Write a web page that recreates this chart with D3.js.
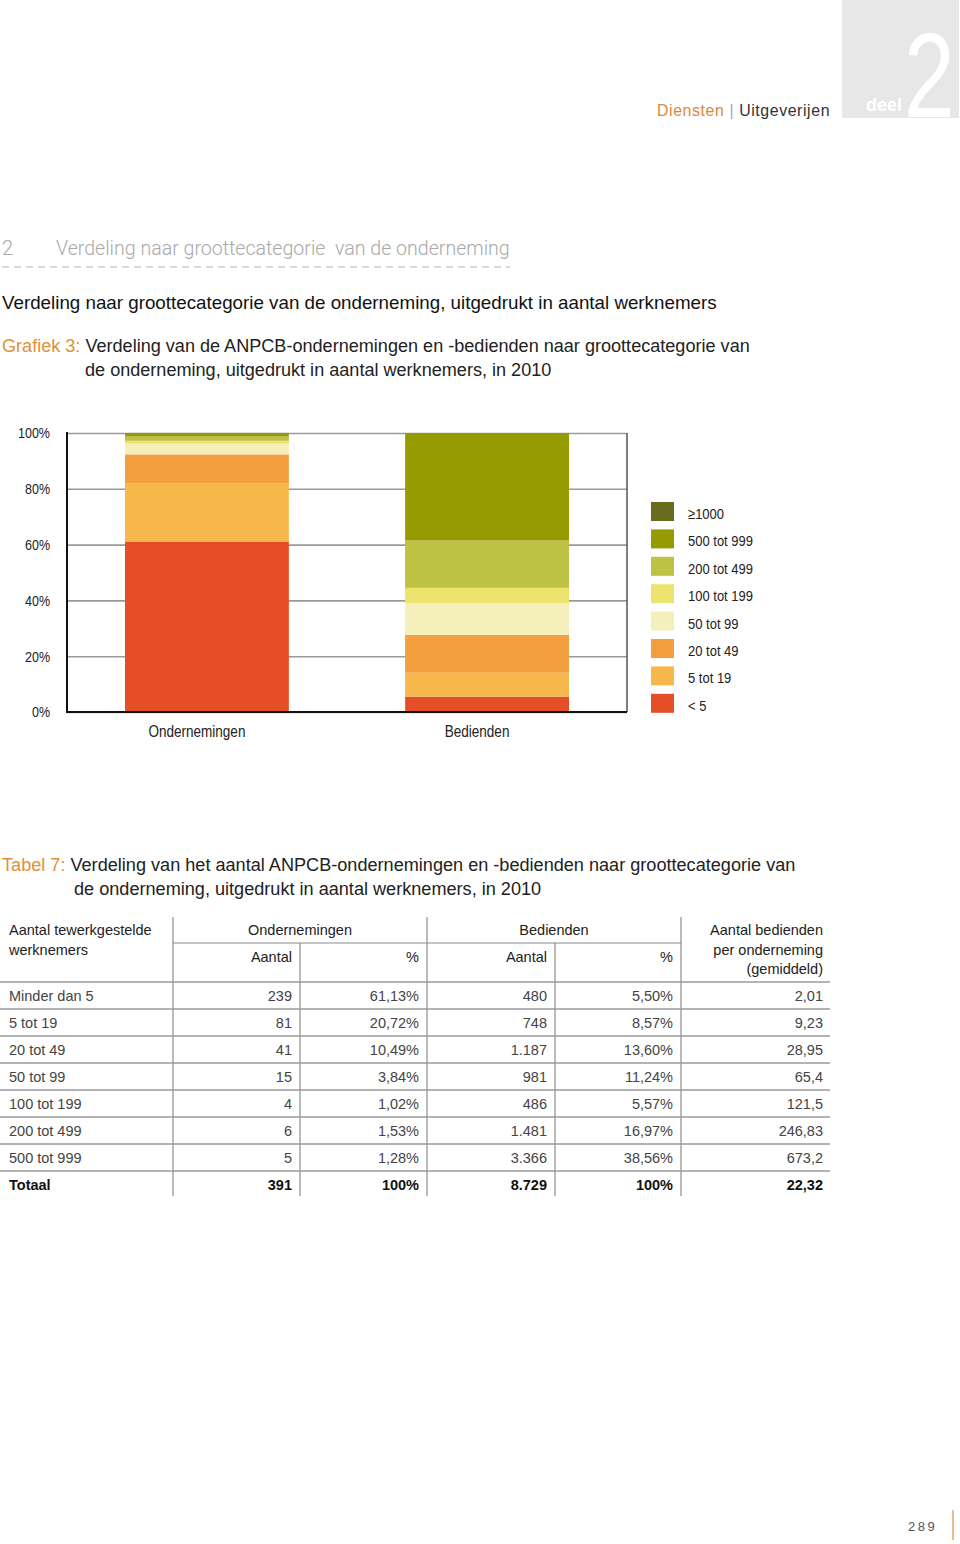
<!DOCTYPE html>
<html><head><meta charset="utf-8">
<script src="https://cdn.jsdelivr.net/npm/d3@7"></script>
<style>body{margin:0;background:#fff} svg{display:block}</style>
</head><body><svg id="c" width="960" height="1544"></svg>
<script>
// ---------- DATA ----------
const categories = ["Ondernemingen", "Bedienden"];
const sizeClasses = ["< 5", "5 tot 19", "20 tot 49", "50 tot 99", "100 tot 199", "200 tot 499", "500 tot 999", "≥1000"];
const ondernemingenPct = [61.13, 20.72, 10.49, 3.84, 1.02, 1.53, 1.28, 0];
const bediendenPct = [5.50, 8.57, 13.60, 11.24, 5.57, 16.97, 38.56, 0];
const yTicks = [0, 20, 40, 60, 80, 100];
const classColors = ["#e64e27", "#f7b84b", "#f39f40", "#f4efbb", "#ece46e", "#bdc244", "#959b00", "#6b6b1e"];

const tableLabels = ["Minder dan 5", "5 tot 19", "20 tot 49", "50 tot 99", "100 tot 199", "200 tot 499", "500 tot 999", "Totaal"];
const ondAantal = ["239", "81", "41", "15", "4", "6", "5", "391"];
const ondPct = ["61,13%", "20,72%", "10,49%", "3,84%", "1,02%", "1,53%", "1,28%", "100%"];
const bedAantal = ["480", "748", "1.187", "981", "486", "1.481", "3.366", "8.729"];
const bedPct = ["5,50%", "8,57%", "13,60%", "11,24%", "5,57%", "16,97%", "38,56%", "100%"];
const bedPerOnd = ["2,01", "9,23", "28,95", "65,4", "121,5", "246,83", "673,2", "22,32"];

// ---------- HELPERS ----------
const svg = d3.select("#c");
const SANS = "'Liberation Sans', Arial, Helvetica, sans-serif";
function fit(sel, w) {
  const L = sel.node().getComputedTextLength();
  const fs = parseFloat(sel.attr("font-size"));
  const nf = fs * w / L;
  sel.attr("font-size", nf);
  return nf;
}
// horizontally condense texts (mimics a condensed face) by a factor
function condense(sel, f) {
  sel.each(function () {
    const L = this.getComputedTextLength();
    d3.select(this).attr("textLength", L * f).attr("lengthAdjust", "spacingAndGlyphs");
  });
}
function factorFor(node, w) { return w / node.getComputedTextLength(); }

// ---------- PAGE HEADER ----------
svg.append("rect").attr("x", 842).attr("y", 0).attr("width", 117).attr("height", 118).attr("fill", "#e6e7e6");
svg.append("g").attr("transform", "translate(904,117) scale(0.76,1)")
  .append("text").attr("x", 0).attr("y", 0).attr("font-family", SANS).attr("font-size", 120)
  .attr("fill", "#fff").text("2");
const deel = svg.append("text").attr("x", 866).attr("y", 111).attr("font-family", SANS).attr("font-weight", "bold")
  .attr("font-size", 17).attr("fill", "#fff").text("deel");
fit(deel, 36);

const hdr = svg.append("text").attr("x", 657).attr("y", 116).attr("font-family", SANS).attr("font-size", 15)
  .attr("letter-spacing", 0.6);
hdr.append("tspan").attr("fill", "#d9893b").text("Diensten ");
hdr.append("tspan").attr("fill", "#aaa").text("| ");
hdr.append("tspan").attr("fill", "#333").text("Uitgeverijen");
fit(hdr, 174);

// ---------- SECTION TITLE ----------
svg.append("text").attr("x", 2).attr("y", 255).attr("font-family", "Roboto, 'Open Sans', sans-serif").attr("font-weight", 300)
  .attr("font-size", 20).attr("fill", "#a9a9a9").text("2");
const sec = svg.append("text").attr("x", 56).attr("y", 255).attr("font-family", "Roboto, 'Open Sans', sans-serif").attr("font-weight", 300)
  .attr("font-size", 20).attr("fill", "#a9a9a9").attr("xml:space", "preserve").text("Verdeling naar groottecategorie  van de onderneming");
fit(sec, 454);
svg.append("line").attr("x1", 2).attr("x2", 510).attr("y1", 267).attr("y2", 267)
  .attr("stroke", "#b3b3b3").attr("stroke-width", 1.2).attr("stroke-dasharray", "7,5");

const h1 = svg.append("text").attr("x", 2).attr("y", 309).attr("font-family", SANS).attr("font-size", 18)
  .attr("fill", "#111").text("Verdeling naar groottecategorie van de onderneming, uitgedrukt in aantal werknemers");
fit(h1, 715);

// Grafiek title
const g1 = svg.append("text").attr("x", 2).attr("y", 352).attr("font-family", SANS).attr("font-size", 18);
g1.append("tspan").attr("fill", "#e0903a").text("Grafiek 3: ");
g1.append("tspan").attr("fill", "#222").text("Verdeling van de ANPCB-ondernemingen en -bedienden naar groottecategorie van");
const gfs = fit(g1, 748);
svg.append("text").attr("x", 85).attr("y", 376).attr("font-family", SANS).attr("font-size", gfs)
  .attr("fill", "#222").text("de onderneming, uitgedrukt in aantal werknemers, in 2010");

// ---------- CHART ----------
const plot = {left: 67, right: 627, top: 433, bottom: 712};
const y = d3.scaleLinear().domain([0, 100]).range([plot.bottom, plot.top]);
const x = d3.scaleBand().domain(categories).range([plot.left, plot.right]).paddingInner(0.415).paddingOuter(0.207);

const yAxis = svg.append("g").attr("transform", `translate(${plot.left},0)`)
  .call(d3.axisLeft(y).tickValues(yTicks).tickSize(-(plot.right - plot.left)).tickPadding(17).tickFormat(d => d + "%"));
yAxis.select(".domain").remove();
yAxis.selectAll("line").attr("stroke", "#9a9a9a").attr("stroke-width", 1.6);
const tickTexts = yAxis.selectAll("text").attr("font-family", SANS).attr("font-size", 15).attr("fill", "#222");
const tf = factorFor(tickTexts.filter(d => d === 100).node(), 32);
condense(tickTexts, tf);

// stacked bars
const rows = categories.map((c, i) => {
  const vals = i === 0 ? ondernemingenPct : bediendenPct;
  const o = {cat: c};
  sizeClasses.forEach((k, j) => o[k] = vals[j]);
  return o;
});
const stack = d3.stack().keys(sizeClasses)(rows);
svg.append("g").selectAll("g").data(stack).join("g")
  .attr("fill", (d, i) => classColors[i])
  .selectAll("rect").data(d => d).join("rect")
  .attr("x", d => x(d.data.cat)).attr("width", x.bandwidth())
  .attr("y", d => y(d[1])).attr("height", d => y(d[0]) - y(d[1]));

// frame
svg.append("line").attr("x1", plot.right).attr("x2", plot.right).attr("y1", plot.top).attr("y2", plot.bottom)
  .attr("stroke", "#555").attr("stroke-width", 1.5);
svg.append("line").attr("x1", plot.left).attr("x2", plot.left).attr("y1", plot.top - 1).attr("y2", plot.bottom + 1)
  .attr("stroke", "#111").attr("stroke-width", 2);
svg.append("line").attr("x1", plot.left).attr("x2", plot.right).attr("y1", plot.bottom).attr("y2", plot.bottom)
  .attr("stroke", "#111").attr("stroke-width", 2);

// category labels
const catTexts = svg.append("g").selectAll("text").data(categories).join("text")
  .attr("x", d => x(d) + x.bandwidth() / 2 - 10).attr("y", 737)
  .attr("text-anchor", "middle").attr("font-family", SANS).attr("font-size", 17).attr("fill", "#222")
  .text(d => d);
condense(catTexts, factorFor(catTexts.node(), 97));

// legend
const legendItems = sizeClasses.map((k, i) => ({k, c: classColors[i]})).reverse();
const lg = svg.append("g").selectAll("g").data(legendItems).join("g")
  .attr("transform", (d, i) => `translate(651,${502 + i * 27.4})`);
lg.append("rect").attr("width", 23).attr("height", 19).attr("fill", d => d.c);
const lgTexts = lg.append("text").attr("x", 37).attr("y", 17).attr("font-family", SANS).attr("font-size", 15.5)
  .attr("fill", "#222").text(d => d.k);
condense(lgTexts, factorFor(lgTexts.filter(d => d.k === "500 tot 999").node(), 65));

// ---------- TABLE TITLE ----------
const t1 = svg.append("text").attr("x", 2).attr("y", 871).attr("font-family", SANS).attr("font-size", 18);
t1.append("tspan").attr("fill", "#e0903a").text("Tabel 7: ");
t1.append("tspan").attr("fill", "#222").text("Verdeling van het aantal ANPCB-ondernemingen en -bedienden naar groottecategorie van");
const tfs = fit(t1, 794);
svg.append("text").attr("x", 74).attr("y", 895).attr("font-family", SANS).attr("font-size", tfs)
  .attr("fill", "#222").text("de onderneming, uitgedrukt in aantal werknemers, in 2010");

// ---------- TABLE ----------
const tb = svg.append("g").attr("font-family", SANS).attr("font-size", 14.5).attr("fill", "#333");
const lineC = "#8c8c8c";
const rowTop = 982, rowH = 27, nRows = tableLabels.length;
const tableBottom = rowTop + rowH * nRows - 2;
// vertical lines
[[173, 917], [300, 943], [427, 917], [555, 943], [681, 917]].forEach(([vx, vy]) => {
  tb.append("line").attr("x1", vx).attr("x2", vx).attr("y1", vy).attr("y2", tableBottom)
    .attr("stroke", lineC).attr("stroke-width", 1.2);
});
tb.append("line").attr("x1", 173).attr("x2", 681).attr("y1", 943).attr("y2", 943).attr("stroke", lineC).attr("stroke-width", 1.2);
// horizontal row lines
d3.range(nRows).forEach(i => {
  tb.append("line").attr("x1", 0).attr("x2", 830).attr("y1", rowTop + i * rowH).attr("y2", rowTop + i * rowH)
    .attr("stroke", "#9a9a9a").attr("stroke-width", 1.5);
});
// headers
const hd = [
  {t: "Aantal tewerkgestelde", x: 9, y: 935, a: "start"},
  {t: "werknemers", x: 9, y: 955, a: "start"},
  {t: "Ondernemingen", x: 300, y: 935, a: "middle"},
  {t: "Aantal", x: 292, y: 962, a: "end"},
  {t: "%", x: 419, y: 962, a: "end"},
  {t: "Bedienden", x: 554, y: 935, a: "middle"},
  {t: "Aantal", x: 547, y: 962, a: "end"},
  {t: "%", x: 673, y: 962, a: "end"},
  {t: "Aantal bedienden", x: 823, y: 935, a: "end"},
  {t: "per onderneming", x: 823, y: 955, a: "end"},
  {t: "(gemiddeld)", x: 823, y: 974, a: "end"}
];
tb.selectAll("text.h").data(hd).join("text").attr("class", "h")
  .attr("x", d => d.x).attr("y", d => d.y).attr("text-anchor", d => d.a).attr("fill", "#222").text(d => d.t);
// body
const cols = [
  {v: tableLabels, x: 9, a: "start"},
  {v: ondAantal, x: 292, a: "end"},
  {v: ondPct, x: 419, a: "end"},
  {v: bedAantal, x: 547, a: "end"},
  {v: bedPct, x: 673, a: "end"},
  {v: bedPerOnd, x: 823, a: "end"}
];
cols.forEach(c => {
  tb.append("g").selectAll("text").data(c.v).join("text")
    .attr("x", c.x).attr("y", (d, i) => rowTop + i * rowH + 19)
    .attr("text-anchor", c.a)
    .attr("font-weight", (d, i) => i === nRows - 1 ? "bold" : null)
    .attr("fill", (d, i) => i === nRows - 1 ? "#111" : "#444")
    .text(d => d);
});

// ---------- PAGE NUMBER ----------
svg.append("text").attr("x", 908).attr("y", 1531).attr("font-family", SANS).attr("font-size", 13)
  .attr("letter-spacing", 2.5).attr("fill", "#555").text("289");
svg.append("line").attr("x1", 953).attr("x2", 953).attr("y1", 1510).attr("y2", 1540)
  .attr("stroke", "#e3a566").attr("stroke-width", 1.5);
</script></body></html>
